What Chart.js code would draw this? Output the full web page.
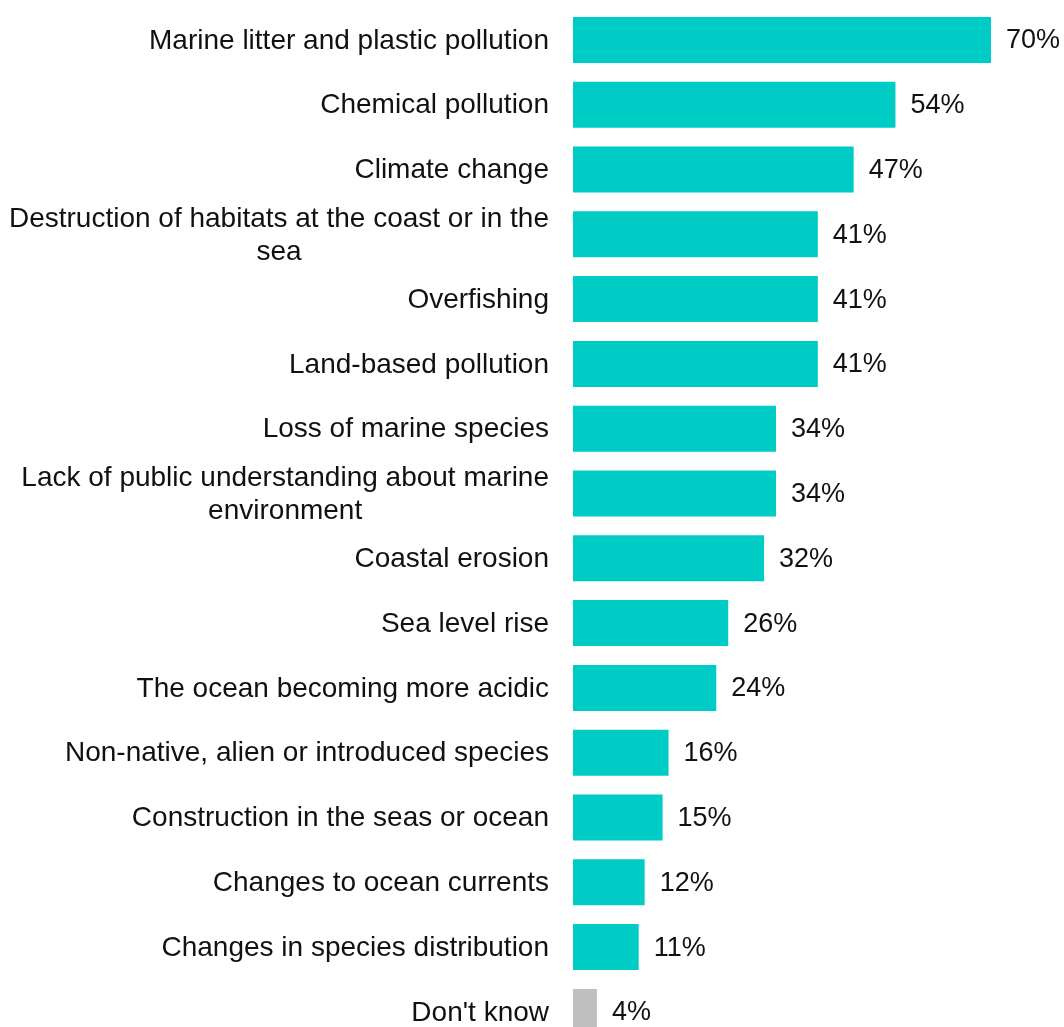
<!DOCTYPE html>
<html>
<head>
<meta charset="utf-8">
<script src="https://cdn.jsdelivr.net/npm/chart.js@4/dist/chart.umd.min.js"></script>
<style>
  html, body { margin: 0; padding: 0; background: #fff; overflow: hidden; }
  #chart { display: block; }
</style>
</head>
<body>
<canvas id="chart" width="1064" height="1050"></canvas>
<script>
// categories, one entry per bar (arrays = wrapped lines)
const categories = [
  "Marine litter and plastic pollution",
  "Chemical pollution",
  "Climate change",
  ["Destruction of habitats at the coast or in the", "sea"],
  "Overfishing",
  "Land-based pollution",
  "Loss of marine species",
  ["Lack of public understanding about marine", "environment"],
  "Coastal erosion",
  "Sea level rise",
  "The ocean becoming more acidic",
  "Non-native, alien or introduced species",
  "Construction in the seas or ocean",
  "Changes to ocean currents",
  "Changes in species distribution",
  "Don't know"
];

// share of respondents, %
const values = [70, 54, 47, 41, 41, 41, 34, 34, 32, 26, 24, 16, 15, 12, 11, 4];

const teal = "#00CCC6";
const grey = "#C0BFC0";
const barColors = categories.map(c => c === "Don't know" ? grey : teal);

const FONT = "'Liberation Sans', Arial, sans-serif";
const NAME_SIZE = 28;
const VALUE_SIZE = 27;
const LINE_H = 33;

// draws category names to the left of the bars, and the % at the bar ends
const labelsPlugin = {
  id: "labelsPlugin",
  afterDatasetsDraw(chart) {
    const ctx = chart.ctx;
    const yScale = chart.scales.y;
    const meta = chart.getDatasetMeta(0);
    ctx.save();
    ctx.fillStyle = "#111";
    ctx.textBaseline = "middle";

    ctx.font = NAME_SIZE + "px " + FONT;
    categories.forEach((cat, i) => {
      const y = yScale.getPixelForValue(i) + 1;
      const lines = Array.isArray(cat) ? cat : [cat];
      const widest = Math.max(...lines.map(l => ctx.measureText(l).width));
      const right = chart.chartArea.left - 24;
      const cx = right - widest / 2;
      const top = y - (lines.length - 1) * LINE_H / 2;
      ctx.textAlign = "center";
      lines.forEach((l, j) => ctx.fillText(l, cx, top + j * LINE_H));
    });

    ctx.font = VALUE_SIZE + "px " + FONT;
    ctx.textAlign = "left";
    meta.data.forEach((bar, i) => {
      ctx.fillText(values[i] + "%", bar.x + 15, bar.y + 1);
    });
    ctx.restore();
  }
};

new Chart(document.getElementById("chart"), {
  type: "bar",
  data: {
    labels: categories,
    datasets: [{
      data: values,
      backgroundColor: barColors,
      borderWidth: 0,
      barPercentage: 0.71,
      categoryPercentage: 1
    }]
  },
  options: {
    indexAxis: "y",
    responsive: false,
    animation: false,
    layout: { padding: { left: 573, right: 13.3, top: 7.5, bottom: 5.7 } },
    plugins: {
      legend: { display: false },
      tooltip: { enabled: false }
    },
    scales: {
      x: { display: false, min: 0, max: 80 },
      y: { display: false }
    }
  },
  plugins: [labelsPlugin]
});
</script>
</body>
</html>
